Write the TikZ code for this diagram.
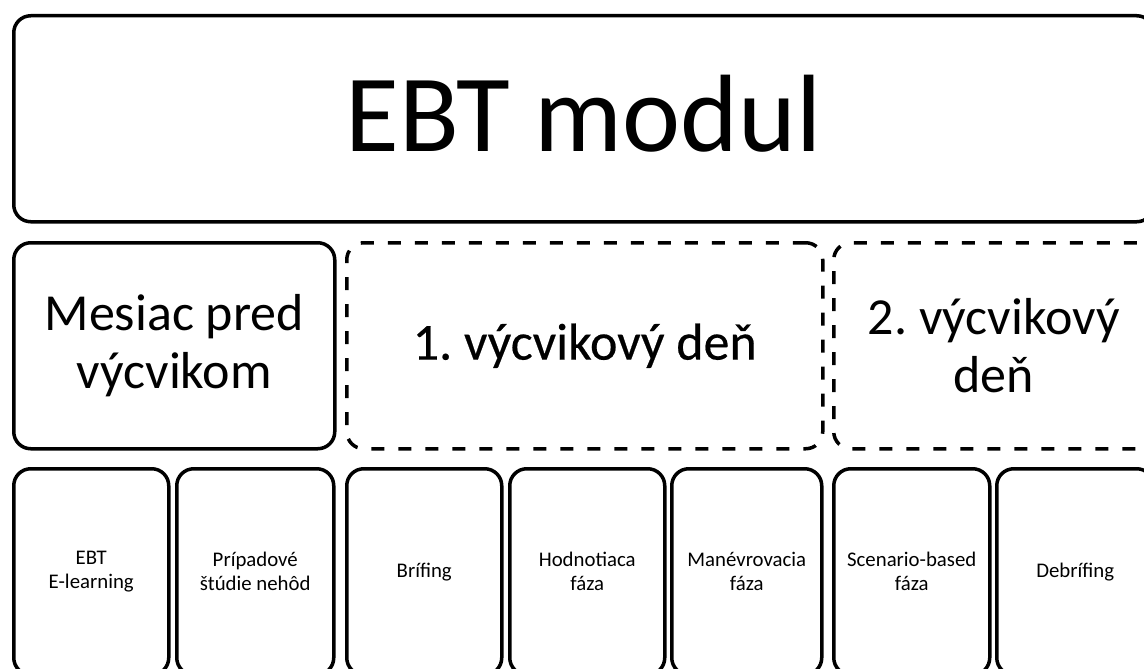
\documentclass[tikz,border=0pt]{standalone}
\usepackage{fontspec}
\setmainfont{Carlito}
\newfontfamily\heavyfont[FakeBold=0.4]{Carlito}
\frenchspacing
\begin{document}
\begin{tikzpicture}[x=1pt,y=-1pt,
  box/.style={draw, line width=3.5pt, rounded corners=17pt, anchor=north west, inner sep=0pt, align=center},
  dbox/.style={box, dash pattern=on 13pt off 14pt},
  big/.style={font=\fontsize{110}{120}\selectfont},
  mid/.style={font=\fontsize{52}{58}\selectfont},
  small/.style={font=\fontsize{20.8}{24}\selectfont}]
\useasboundingbox (0,0) rectangle (1144,669);
% top
\node[box, big, text depth=10pt, minimum width=1140pt, minimum height=206pt] (top) at (12,14) {EBT modul};
% row 2
\node[box, mid, minimum width=321pt, minimum height=206pt] (pre) at (12,241) {Mesiac pred\\výcvikom};
\node[dbox, mid, minimum width=476pt, minimum height=206pt] (d1) at (345,241) {\heavyfont 1. výcvikový deň};
\node[dbox, mid, minimum width=320pt, minimum height=206pt] (d2) at (832,241) {2. výcvikový\\deň};
% row 3
\node[box, small, minimum width=155pt, minimum height=206pt] (b1) at (12,467) {EBT\\E-learning};
\node[box, small, minimum width=157pt, minimum height=206pt] (b2) at (175,467) {Prípadové\\štúdie nehôd};
\node[box, small, minimum width=155pt, minimum height=206pt] (b3) at (345,467) {Brífing};
\node[box, small, minimum width=155pt, minimum height=206pt] (b4) at (508,467) {Hodnotiaca\\fáza};
\node[box, small, minimum width=150pt, minimum height=206pt] (b5) at (670,467) {Manévrovacia\\fáza};
\node[box, small, minimum width=156pt, minimum height=206pt] (b6) at (832,467) {Scenario-based\\fáza};
\node[box, small, minimum width=157pt, minimum height=206pt] (b7) at (995,467) {Debrífing};
\end{tikzpicture}
\end{document}
